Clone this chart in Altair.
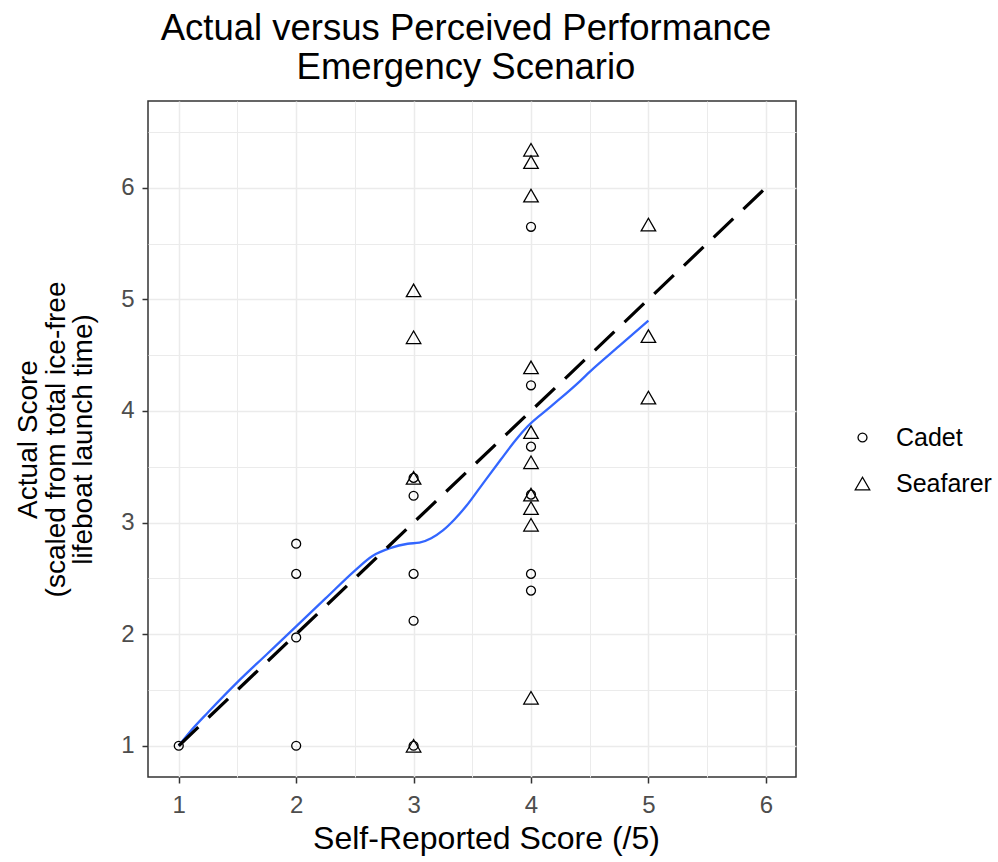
import altair as alt
import pandas as pd

# Cadet participants: self-reported score and scaled actual score
cadet_self = [1, 2, 2, 2, 2, 3, 3, 3, 3, 3, 4, 4, 4, 4, 4, 4]
cadet_actual = [1.00, 2.81, 2.54, 1.97, 1.00, 3.40, 3.24, 2.54, 2.12, 1.00,
                5.65, 4.23, 3.68, 3.25, 2.54, 2.39]

# Seafarer participants
seafarer_self = [3, 3, 3, 3, 4, 4, 4, 4, 4, 4, 4, 4, 4, 4, 5, 5, 5]
seafarer_actual = [5.08, 4.66, 3.40, 1.00, 6.34, 6.23, 5.93, 4.39, 3.81, 3.54,
                   3.25, 3.13, 2.98, 1.43, 5.67, 4.67, 4.12]

# Smoothed trend of actual against self-reported score
smooth_x = [1.00, 1.10, 1.25, 1.50, 1.75, 2.00, 2.25, 2.50, 2.65, 2.80, 2.95,
            3.05, 3.15, 3.25, 3.35, 3.45, 3.57, 3.74, 3.87, 3.97, 4.17, 4.42,
            4.50, 4.75, 5.00]
smooth_y = [1.00, 1.13, 1.30, 1.57, 1.82, 2.07, 2.32, 2.57, 2.70, 2.77, 2.81,
            2.82, 2.86, 2.93, 3.03, 3.15, 3.32, 3.56, 3.74, 3.86, 4.04, 4.27,
            4.35, 4.58, 4.81]

# Perfect self-assessment reference line (actual == perceived)
ident = [1, 6]

groups = ["Cadet", "Seafarer"]

points = pd.DataFrame({
    "self": cadet_self + seafarer_self,
    "actual": cadet_actual + seafarer_actual,
    "group": [groups[0]] * len(cadet_self) + [groups[1]] * len(seafarer_self),
})
smooth = pd.DataFrame({"self": smooth_x, "actual": smooth_y})
identity = pd.DataFrame({"self": ident, "actual": ident})

FONT = "Liberation Sans"
x_scale = alt.Scale(domain=[0.738, 6.257], nice=False, zero=False)
y_scale = alt.Scale(domain=[0.72, 6.777], nice=False, zero=False)

minor = "datum.value % 1 != 0"


def make_axis(values, title, title_size, **kw):
    return alt.Axis(
        values=values,
        title=title,
        labelExpr="datum.value % 1 == 0 ? format(datum.value, 'd') : ''",
        domain=False,
        grid=True,
        gridColor="#EBEBEB",
        gridWidth={"condition": {"test": minor, "value": 1.0}, "value": 1.5},
        tickColor="#333333",
        tickWidth=1.5,
        tickSize=6,
        tickOpacity={"condition": {"test": minor, "value": 0}, "value": 1},
        labelFont=FONT,
        labelFontSize=24,
        labelColor="#4D4D4D",
        titleFont=FONT,
        titleFontSize=title_size,
        titleFontWeight="normal",
        titleColor="#000000",
        **kw,
    )


x_axis = make_axis([1, 1.5, 2, 2.5, 3, 3.5, 4, 4.5, 5, 5.5, 6],
                   "Self-Reported Score (/5)", 32,
                   labelPadding=10, titlePadding=6.5, titleX=338)
y_axis = make_axis([1, 1.5, 2, 2.5, 3, 3.5, 4, 4.5, 5, 5.5, 6, 6.5],
                   ["Actual Score", "(scaled from total ice-free",
                    "lifeboat launch time)"], 28,
                   labelPadding=8, titlePadding=23, titleLineHeight=27.5)

legend = alt.Legend(
    title=None,
    orient="none",
    legendX=702,
    legendY=324,
    padding=0,
    labelFont=FONT,
    labelFontSize=25,
    labelColor="#000000",
    labelOffset=21,
    rowPadding=20,
    symbolStrokeColor="#000000",
    symbolFillColor="transparent",
    symbolStrokeWidth=1.3,
)

scatter = alt.Chart(points).mark_point(
    filled=False, color="#000000", strokeWidth=1.3, opacity=1
).encode(
    x=alt.X("self:Q", scale=x_scale, axis=x_axis),
    y=alt.Y("actual:Q", scale=y_scale, axis=y_axis),
    shape=alt.Shape("group:N", scale=alt.Scale(domain=groups,
                    range=["circle", "triangle-up"]), legend=legend),
    size=alt.Size("group:N", scale=alt.Scale(domain=groups, range=[80, 210]),
                  legend=legend),
)

trend = alt.Chart(smooth).mark_line(
    color="#3366FF", strokeWidth=2.3, interpolate="monotone"
).encode(x="self:Q", y="actual:Q")

diag = alt.Chart(identity).mark_line(
    color="#000000", strokeWidth=3.2, strokeDash=[27, 14], strokeCap="butt"
).encode(x="self:Q", y="actual:Q")

chart = alt.layer(scatter, trend, diag).properties(
    width=648,
    height=676,
    title=alt.TitleParams(
        ["Actual versus Perceived Performance", "Emergency Scenario"],
        font=FONT,
        fontSize=36.5,
        fontWeight="normal",
        color="#000000",
        anchor="middle",
        frame="group",
        offset=15,
        lineHeight=39,
        dx=-6,
    ),
    autosize=alt.AutoSizeParams(type="none"),
    padding={"left": 148, "top": 101, "right": 202, "bottom": 85},
).configure(
    background="#FFFFFF"
).configure_view(
    stroke="#333333", strokeWidth=1.5, fill="#FFFFFF"
)

chart.save("out.html", embed_options={"renderer": "svg", "actions": False})
